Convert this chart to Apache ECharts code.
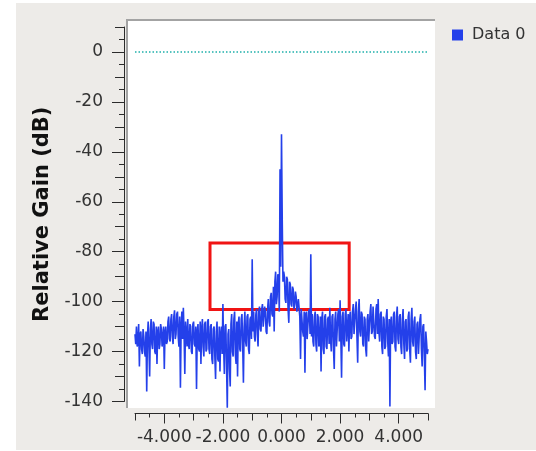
<!DOCTYPE html>
<html>
<head>
<meta charset="utf-8">
<script src="https://cdn.jsdelivr.net/npm/echarts@6/dist/echarts.min.js"></script>
<style>
  html, body { margin: 0; padding: 0; background: #fff; }
  #echarts_main { width: 536px; height: 451px; }
</style>
</head>
<body>
<div id="echarts_main"></div>
<script>
// fft bins: -5 .. 5, step 0.025 (401 bins)
var binStart = -5;
var binStep = 0.025;
var gainDb = [
  -113, -117, -110, -118, -116, -109, -126, -113, -112, -119, -121, -111, -114, -120, -122, -112, -136, -114, -108, -118,
  -130, -111, -107, -117, -119, -108, -109, -120, -121, -110, -125, -112, -110, -119, -117, -109, -111, -118, -118, -110,
  -127, -112, -110, -117, -116, -108, -106, -115, -116, -107, -105, -114, -117, -106, -103.5, -115, -113, -105, -104, -114,
  -118, -106, -134.5, -110, -104, -115, -102.5, -113, -129, -108, -112, -118, -107, -117, -119, -109, -110, -120, -121, -109,
  -108, -117, -118, -110, -135, -112, -109, -119, -120, -108, -125, -111, -107, -118, -122, -109, -108, -120, -119, -108,
  -107, -119, -121, -110, -109, -123, -125, -111, -110, -122, -131, -112, -108, -123, -124, -110, -128, -113, -110, -121,
  -101, -118, -129, -110, -109, -126, -142.5, -113, -111, -127, -134, -109, -105, -120, -122, -107, -104, -121, -125, -108,
  -130, -109, -106, -119, -120, -107, -105, -117, -132.5, -110, -104, -116, -118, -106, -105, -119, -121, -107, -106, -115,
  -83, -112, -104, -114, -116, -105, -103, -113, -118, -104, -102, -111, -112, -103, -101, -110, -110, -102, -104, -112,
  -113, -103, -99, -108, -110, -98, -96.5, -105, -106, -94, -112, -92, -88, -101, -98, -89, -90, -104, -47, -86,
  -33, -67, -92, -88, -90, -99, -100.5, -90, -91, -103, -108.5, -92, -93, -101, -102, -94, -95, -103, -101, -96,
  -98, -104, -104, -99, -99, -106, -123, -103, -103, -112, -114, -104, -128.5, -105, -104, -115, -115, -104, -103, -113,
  -81, -114, -105, -116, -118, -106, -104, -117, -120, -105, -106, -118, -116, -106, -128, -107, -104, -119, -121, -106,
  -105, -118, -119, -107, -106, -117, -102.5, -115, -120, -106, -105, -119, -127, -107, -104, -118, -118, -105, -103, -116,
  -99.5, -114, -130.5, -106, -104, -117, -118, -105, -103, -116, -116, -105, -120, -106, -104, -115, -114, -104, -101, -113,
  -113, -103, -100, -114, -124.5, -104, -99, -112, -114, -104, -105, -117, -118, -106, -107, -119, -122, -107, -105, -116,
  -116, -104, -101, -113, -112, -102, -102, -114, -115, -103, -101, -113, -99, -112, -116, -105, -104, -118, -121, -106,
  -107, -119, -118, -106, -103, -116, -122, -107, -142, -108, -106, -117, -116, -105, -104, -118, -120, -106, -102, -115,
  -117, -106, -105, -118, -121, -107, -103, -117, -123, -108, -107, -120, -119, -106, -104, -119, -124.5, -107, -102.5, -116,
  -118, -108, -106, -120, -123, -109, -108, -121, -121, -107, -105, -119, -126, -110, -109, -122, -135.5, -112, -116, -121,
  -119
];
var refLevel = 0;
var boxCorners = [[-2.44, -76.5], [2.31, -103.2]];

var xMajorTicks = [-4, -2, 0, 2, 4];
var xMediumTicks = [-5, -3, -1, 1, 3, 5];
var xMinorTicks = [-4.5, -3.5, -2.5, -1.5, -0.5, 0.5, 1.5, 2.5, 3.5, 4.5];
var yMajorTicks = [-140, -120, -100, -80, -60, -40, -20, 0];
var yMediumTicks = [-130, -110, -90, -70, -50, -30, -10, 10];
var yMinorTicks = [-135, -125, -115, -105, -95, -85, -75, -65, -55, -45, -35, -25, -15, -5, 5];

var points = [];
for (var i = 0; i < gainDb.length; i++) {
  points.push([binStart + i * binStep, gainDb[i]]);
}

var font = 'DejaVu Sans';
var axisColor = '#2b2b2b';

function xAxisDef(ticks, len, withLabels) {
  return {
    type: 'value', min: -5, max: 5, position: 'bottom', offset: 12,
    axisLine: { show: withLabels, onZero: false, lineStyle: { color: axisColor, width: 1 } },
    axisTick: { show: true, customValues: ticks, length: len, lineStyle: { color: axisColor } },
    axisLabel: {
      show: withLabels, customValues: ticks, margin: 16,
      fontFamily: font, fontSize: 17, color: '#333',
      formatter: function (v) { return v.toFixed(3); }
    },
    splitLine: { show: false }
  };
}

function yAxisDef(ticks, len, withLabels) {
  var ax = {
    type: 'value', min: -140, max: 10, position: 'left', offset: 11,
    axisLine: { show: withLabels, onZero: false, lineStyle: { color: axisColor, width: 1 } },
    axisTick: { show: true, customValues: ticks, length: len, lineStyle: { color: axisColor } },
    axisLabel: {
      show: withLabels, customValues: ticks, margin: 21,
      fontFamily: font, fontSize: 17, color: '#333'
    },
    splitLine: { show: false }
  };
  if (withLabels) {
    ax.name = 'Relative Gain (dB)';
    ax.nameLocation = 'middle';
    ax.nameRotate = 90;
    ax.nameGap = 68;
    ax.nameTextStyle = { fontFamily: font, fontSize: 21, fontWeight: 'bold', color: '#111' };
  }
  return ax;
}

var myChart = echarts.init(document.getElementById('echarts_main'));
myChart.setOption({
  animation: false,
  backgroundColor: '#fff',
  graphic: [
    { type: 'rect', z: -10, shape: { x: 16, y: 3, width: 520, height: 447 }, style: { fill: '#edebe8' } },
    { type: 'rect', z: -9, shape: { x: 128, y: 21, width: 307, height: 387 }, style: { fill: '#fff' } },
    { type: 'polyline', z: -8, shape: { points: [[127, 408], [127, 20], [435, 20]] },
      style: { stroke: '#a3a3a3', lineWidth: 2, fill: null } }
  ],
  legend: {
    left: 452, top: 27, padding: 0,
    icon: 'rect', itemWidth: 11, itemHeight: 11,
    textStyle: { fontFamily: font, fontSize: 16, color: '#333', padding: [0, 0, 0, 4] },
    data: ['Data 0']
  },
  grid: { left: 135, top: 27, width: 293, height: 374.5 },
  xAxis: [
    xAxisDef(xMajorTicks, 10, true),
    xAxisDef(xMediumTicks, 7, false),
    xAxisDef(xMinorTicks, 4, false)
  ],
  yAxis: [
    yAxisDef(yMajorTicks, 12, true),
    yAxisDef(yMediumTicks, 9, false),
    yAxisDef(yMinorTicks, 5, false)
  ],
  series: [
    {
      name: 'Data 0',
      type: 'line',
      xAxisIndex: 0,
      yAxisIndex: 0,
      data: points,
      showSymbol: false,
      clip: false,
      color: '#2440ea',
      lineStyle: { width: 1.6, color: '#2440ea' },
      markLine: {
        silent: true, symbol: 'none', label: { show: false },
        lineStyle: { color: '#1fb0aa', type: [1.5, 2], width: 1.5 },
        data: [{ yAxis: refLevel }]
      },
      markArea: {
        silent: true,
        itemStyle: { color: 'rgba(0,0,0,0)', borderColor: '#f01414', borderWidth: 3 },
        data: [[{ coord: boxCorners[0] }, { coord: boxCorners[1] }]]
      }
    }
  ]
});
</script>
</body>
</html>
